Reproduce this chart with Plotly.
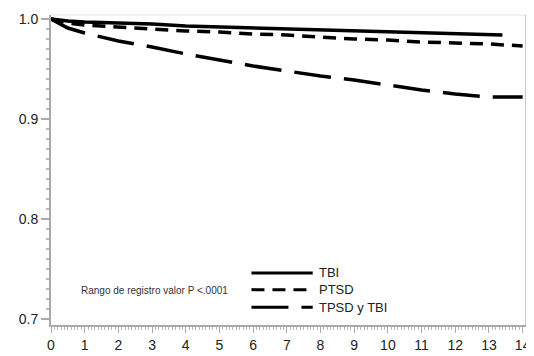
import plotly.graph_objects as go

# Data
time_tbi = [0, 0.5, 1, 2, 3, 4, 5, 6, 7, 8, 9, 10, 11, 12, 13, 13.4]
surv_tbi = [1.0, 0.998, 0.997, 0.996, 0.995, 0.993, 0.992, 0.991, 0.990, 0.989, 0.988, 0.987, 0.986, 0.985, 0.984, 0.984]

time_ptsd = [0, 0.5, 1, 2, 3, 4, 5, 6, 7, 8, 9, 10, 11, 12, 13, 14]
surv_ptsd = [1.0, 0.996, 0.994, 0.992, 0.990, 0.988, 0.987, 0.985, 0.984, 0.982, 0.980, 0.979, 0.977, 0.976, 0.975, 0.973]

time_both = [0, 0.2, 0.5, 1, 1.5, 2, 3, 4, 5, 6, 7, 8, 9, 10, 11, 12, 12.7, 13, 14]
surv_both = [1.0, 0.996, 0.991, 0.986, 0.982, 0.978, 0.972, 0.965, 0.959, 0.953, 0.948, 0.943, 0.939, 0.934, 0.929, 0.925, 0.923, 0.922, 0.922]

series_names = ["TBI", "PTSD", "TPSD y TBI"]
x_ticks = list(range(0, 15))
y_ticks = [0.7, 0.8, 0.9, 1.0]
y_tick_labels = ["0.7", "0.8", "0.9", "1.0"]
pvalue_text = "Rango de registro valor P <.0001"

dashes = ["solid", "13px,8px", "37px,13px"]

fig = go.Figure()
for name, t, s, d in zip(series_names, [time_tbi, time_ptsd, time_both],
                         [surv_tbi, surv_ptsd, surv_both], dashes):
    fig.add_trace(go.Scatter(x=t, y=s, mode="lines", name=name,
                             line=dict(color="black", width=3.5, dash=d),
                             showlegend=False))

axis_gray = "#aaaaaa"
fig.update_layout(
    width=526, height=348,
    margin=dict(l=43, r=4, t=3, b=21),
    paper_bgcolor="white", plot_bgcolor="white",
    font=dict(family="Liberation Sans, Arial, sans-serif", color="#333333"),
    xaxis=dict(range=[0, 14.1], tickvals=x_ticks, ticktext=[str(v) for v in x_ticks],
               showgrid=False, zeroline=False, showline=True, linecolor=axis_gray,
               linewidth=1.5, ticks="outside", ticklen=6, tickcolor=axis_gray,
               ticklabeloverflow="allow",
               tickfont=dict(size=14, color="#222222"),
               minor=dict(dtick=0.1, ticks="outside", ticklen=3, tickcolor="#bbbbbb")),
    yaxis=dict(range=[0.694, 1.004], tickvals=y_ticks, ticktext=y_tick_labels,
               showgrid=False, zeroline=False, showline=True, linecolor=axis_gray,
               linewidth=2, ticks="outside", ticklen=8, tickwidth=2, tickcolor=axis_gray,
               ticklabeloverflow="allow",
               tickfont=dict(size=14, color="#222222"),
               minor=dict(dtick=0.01, ticks="outside", ticklen=3, tickcolor="#bbbbbb")),
)

# faint top and right border
fig.add_shape(type="line", xref="paper", yref="paper", x0=0, x1=1, y0=1, y1=1,
              line=dict(color="#e3e3e3", width=1))
fig.add_shape(type="line", xref="paper", yref="paper", x0=1, x1=1, y0=0, y1=1,
              line=dict(color="#bbbbbb", width=1.5))

# custom legend (line samples + labels)
leg_x0, leg_x1 = 0.422, 0.551
leg_y = [0.168, 0.114, 0.057]
for name, d, yy in zip(series_names, dashes, leg_y):
    fig.add_shape(type="line", xref="paper", yref="paper", x0=leg_x0, x1=leg_x1,
                  y0=yy, y1=yy, line=dict(color="black", width=3, dash=d))
    fig.add_annotation(x=leg_x1 + 0.008, y=yy, xref="paper", yref="paper", text=name,
                       showarrow=False, xanchor="left", yanchor="middle",
                       font=dict(size=13, color="#222222", family="Liberation Sans, Arial"))

fig.add_annotation(x=0.217, y=0.111, xref="paper", yref="paper", text=pvalue_text,
                   showarrow=False, xanchor="center", yanchor="middle",
                   font=dict(size=10, color="#333333"))

fig.write_html("out.html")
